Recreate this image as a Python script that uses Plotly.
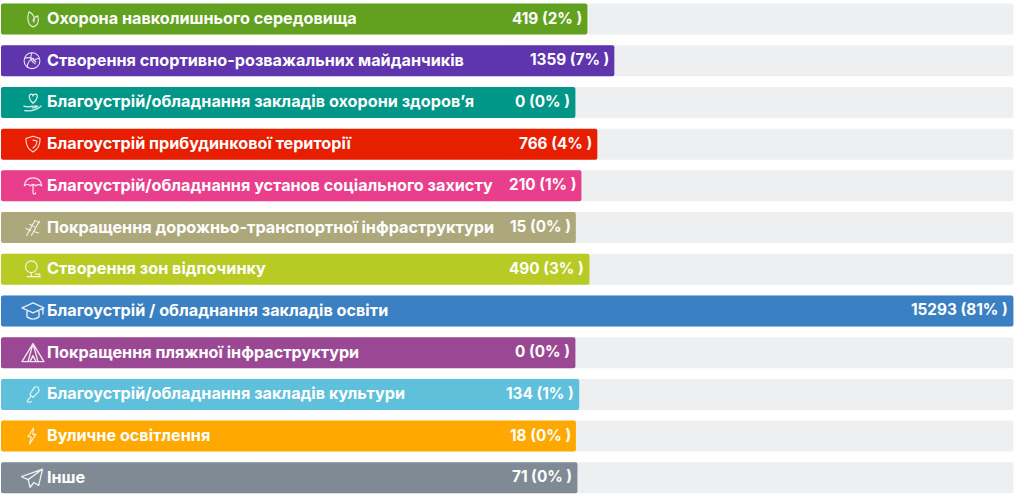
import base64
import plotly.graph_objects as go

categories = [
    "Охорона навколишнього середовища",
    "Створення спортивно-розважальних майданчиків",
    "Благоустрій/обладнання закладів охорони здоров’я",
    "Благоустрій прибудинкової території",
    "Благоустрій/обладнання установ соціального захисту",
    "Покращення дорожньо-транспортної інфраструктури",
    "Створення зон відпочинку",
    "Благоустрій / обладнання закладів освіти",
    "Покращення пляжної інфраструктури",
    "Благоустрій/обладнання закладів культури",
    "Вуличне освітлення",
    "Інше",
]
values = [419, 1359, 0, 766, 210, 15, 490, 15293, 0, 134, 18, 71]
percents = [2, 7, 0, 4, 1, 0, 3, 81, 0, 1, 0, 0]
colors = ["#62a11f", "#5e35ad", "#009688", "#e81e00", "#e83e8c", "#ada77c",
          "#b8cb25", "#3b80c2", "#9b4894", "#5fc0dc", "#ffa900", "#808a94"]

W, H = 1024, 497
U = 15293 / 438          # value units per pixel
MIN_BAR = 574.4 * U      # every bar starts with a fixed stub that holds its label
TRACK = 15293 + MIN_BAR
FONT = "Inter, Noto Sans, sans-serif"
ROW = 41.7

ICONS = [
    '<path d="M12 22C5 19 4 10 7 3c5 2 8 7 6 13M12 22c6-1 8-7 6-14-3 1-5 3-6 6"/>',
    '<circle cx="12" cy="12" r="10"/><path d="M12 2c-3 6-1 11 4 14M3 9c6-2 11 0 14 5M6 20c0-5 3-9 8-11M21 9c-3 0-5 1-7 3"/>',
    '<path d="M12 13C7 9 7 3 10 3c1 0 2 1 2 2 0-1 1-2 3-2 3 0 2 6-3 10zM2 16c6 2 8 0 10 0h5c-1 2-4 2-6 2M3 21c6 1 12 0 18-5"/>',
    '<path d="M12 2l9 3c0 9-3 14-9 17C6 19 3 14 3 5zM12 7l5 1c0 4-2 7-5 9"/>',
    '<path d="M2 12C3 6 7 3 12 3s9 3 10 9c-3-2-5-2-7 0-2-2-4-2-6 0-2-2-5-2-7 0zM12 12v8c0 2 3 2 3 0"/>',
    '<path d="M4 22L14 4M10 22L20 4M3 13l6 3M8 8l6 3M14 3l6 3M13 17l6 2"/>',
    '<circle cx="10" cy="9" r="7"/><path d="M10 16v5M5 21h16M15 18h5v3"/>',
    '<path d="M1 9l11-5 11 5-11 5zM6 12v6c4 3 8 3 12 0v-6M22 9v6"/>',
    '<path d="M12 3L1 21h22zM12 3l-5 18M12 3l5 18M9 21l3-6 3 6"/>',
    '<path d="M14 3c4-2 7 2 5 6l-7 7-4-4zM9 15l-4 5c-1 2 3 3 5 1"/>',
    '<path d="M14 2L7 13h4l-2 9 8-12h-4z"/>',
    '<path d="M23 3L1 11l7 3 15-11zM23 3L8 14l2 8 4-5 5 3z"/>',
]
icon_centers = [33, 32, 33, 33, 33, 33, 33, 33, 33, 33, 32, 32]
icon_sizes = [19, 19, 22, 19, 21, 19, 20, 24, 24, 19, 19, 23]

fig = go.Figure()
fig.add_trace(go.Bar(
    y=categories, x=[TRACK] * len(categories), base=-MIN_BAR, orientation="h",
    marker=dict(color="#eeeff1", line_width=0), hoverinfo="skip", showlegend=False,
))
fig.add_trace(go.Bar(
    y=categories, x=[v + MIN_BAR for v in values], base=-MIN_BAR, orientation="h",
    marker=dict(color=colors, line_width=0), showlegend=False,
    customdata=values, hovertemplate="%{y}: %{customdata}<extra></extra>",
))

annotations = []
images = []
for i, (c, v, p) in enumerate(zip(categories, values, percents)):
    annotations.append(dict(
        x=-MIN_BAR, y=c, xref="x", yref="y", text=f"<b>{c}</b>", showarrow=False,
        xanchor="left", xshift=44, yshift=1, font=dict(family=FONT, size=16.2, color="white"),
    ))
    annotations.append(dict(
        x=v, y=c, xref="x", yref="y", text=f"<b>{v} ({p}% )</b>", showarrow=False,
        xanchor="right", xshift=-3, yshift=1, font=dict(family=FONT, size=15.3, color="white"),
    ))
    svg = ('<svg xmlns="http://www.w3.org/2000/svg" viewBox="0 0 24 24" fill="none" '
           'stroke="white" stroke-opacity="0.85" stroke-width="1.4" stroke-linejoin="round" '
           f'stroke-linecap="round">{ICONS[i]}</svg>')
    uri = "data:image/svg+xml;base64," + base64.b64encode(svg.encode()).decode()
    s = icon_sizes[i]
    images.append(dict(
        source=uri, xref="paper", yref="paper", layer="above",
        x=icon_centers[i] / W, y=1 - (19 + i * ROW) / H,
        sizex=s / W, sizey=s / H, xanchor="center", yanchor="middle",
    ))

fig.update_layout(
    width=W, height=H, margin=dict(l=0, r=0, t=0, b=0),
    paper_bgcolor="white", plot_bgcolor="white",
    barmode="overlay", bargap=0.257, barcornerradius=2,
    xaxis=dict(range=[-MIN_BAR - U, -MIN_BAR + 1023 * U], visible=False),
    yaxis=dict(range=[11.46, -0.456], visible=False, type="category",
               categoryorder="array", categoryarray=categories),
    annotations=annotations, images=images,
)
fig.write_html("out.html", config={"displayModeBar": False},
               post_script="document.body.style.margin='0';document.documentElement.style.overflow='hidden';")
